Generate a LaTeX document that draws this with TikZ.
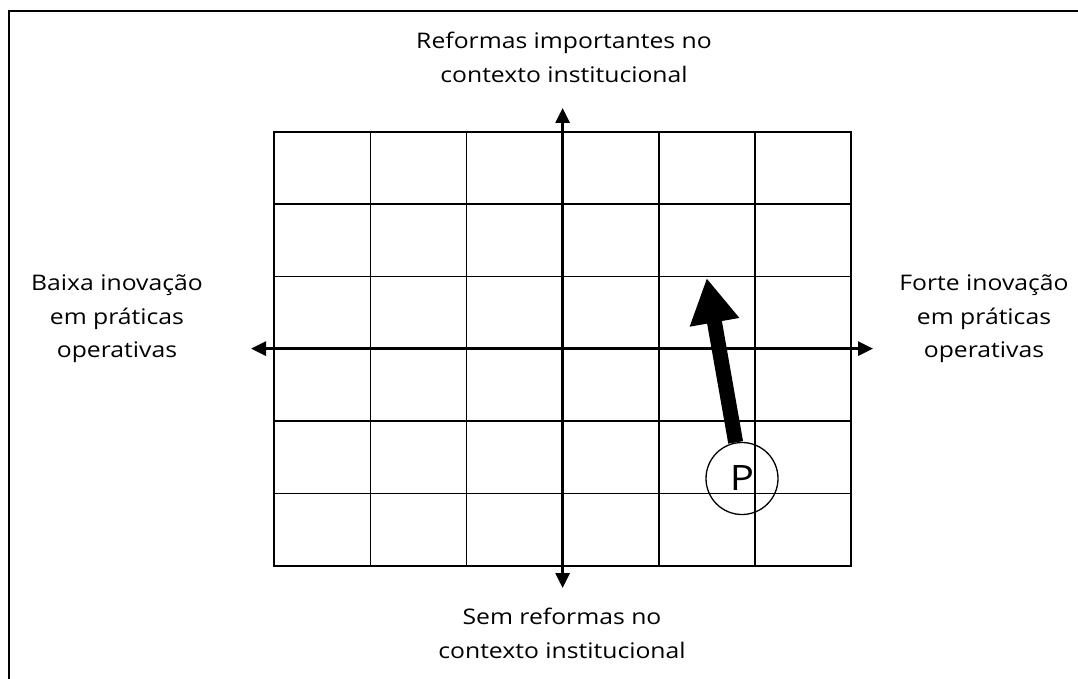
\documentclass[tikz,border=0pt]{standalone}
\usepackage{fontspec}
\setmainfont{Open Sans}[FakeStretch=1.15]
\usetikzlibrary{arrows.meta}
\begin{document}
\begin{tikzpicture}[x=1pt,y=-1pt,
  gridline/.style={line width=1.7pt, line cap=rect},
  axisline/.style={line width=3pt, {Triangle[length=15pt,width=14pt]}-{Triangle[length=15pt,width=14pt]}},
  frameline/.style={line width=2pt},
  label/.style={align=center, inner sep=0pt, anchor=north, font=\fontsize{21.5}{33.5}\selectfont},
  pcircle/.style={circle, draw, line width=1.3pt, minimum size=72pt, inner sep=0pt, font=\fontsize{35}{38}\selectfont},
  bigarrow/.style={line width=15pt, -{Triangle[length=45pt,width=47pt]}}]
\useasboundingbox (0,0) rectangle (1078,679);
% outer frame (cut by page)
\draw[frameline] (9,679) -- (9,11) -- (1078,11);
% grid
\foreach \i in {0,...,6} {
  \draw[gridline] ({274.3+96.1*\i},132) -- ({274.3+96.1*\i},565.8);
  \draw[gridline] (274.3,{132+72.3*\i}) -- (850.9,{132+72.3*\i});
}
% axes
\coordinate (L) at (251,348.6);
\coordinate (R) at (873,348.6);
\coordinate (T) at (562.6,108);
\coordinate (B) at (562.6,588);
\draw[axisline] (L) -- (R);
\draw[axisline] (B) -- (T);
% labels
\node[label] (top) at (564,32) {Reformas importantes no\\contexto institucional};
\node[label] (bottom) at (562,608) {Sem reformas no\\contexto institucional};
\node[label] (left) at (117,275) {Baixa inovação\\em práticas\\operativas};
\node[label] (right) at (984,275) {Forte inovação\\em práticas\\operativas};
% P and its arrow
\node[pcircle] (P) at (742,478.5) {P};
\coordinate (tip) at (706.7,278);
\draw[bigarrow] (P) -- (tip);
\end{tikzpicture}
\end{document}
